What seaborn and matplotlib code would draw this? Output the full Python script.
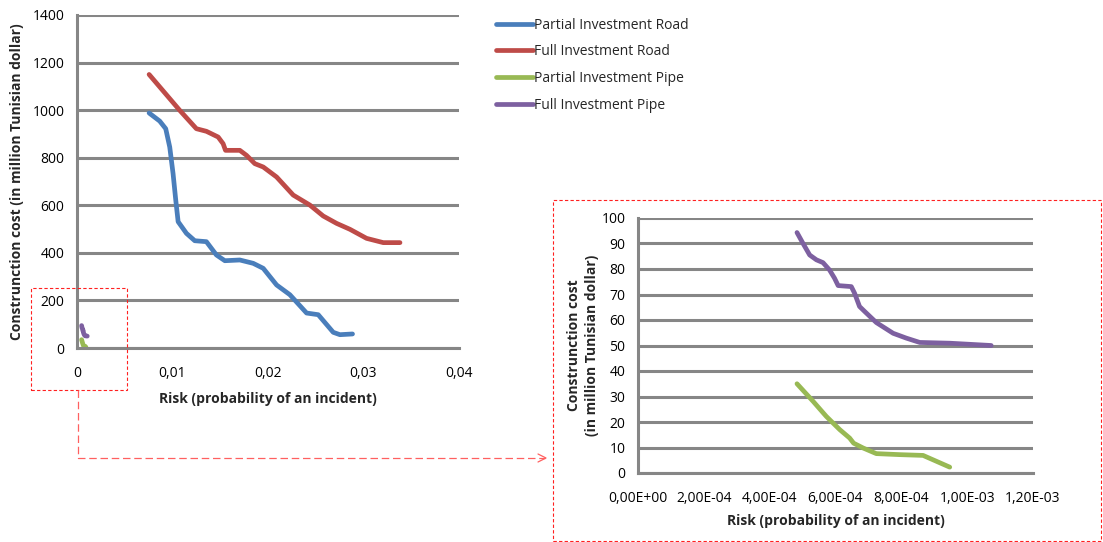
import matplotlib
matplotlib.use("Agg")
import numpy as np
import pandas as pd
import seaborn as sns
from matplotlib import pyplot as plt
from matplotlib.patches import Rectangle

# Data
road_partial_risk = [0.00755, 0.00866, 0.00929, 0.00971, 0.01006, 0.01034, 0.01059, 0.01146, 0.01233,
                     0.01355, 0.0146, 0.01548, 0.01705, 0.01845, 0.0195, 0.0209, 0.02229, 0.02404,
                     0.02526, 0.02683, 0.02753, 0.02885]
road_partial_cost = [988, 954, 922, 845, 733, 622, 531, 482, 451, 447, 391, 367, 370, 356, 335, 265, 224,
                     147, 140, 66, 56, 59]

road_full_risk = [0.00755, 0.01076, 0.0125, 0.01355, 0.01478, 0.0153, 0.01555, 0.01705, 0.01775, 0.01862,
                  0.0195, 0.0209, 0.02264, 0.02438, 0.02578, 0.02718, 0.02858, 0.03032, 0.03207, 0.03382]
road_full_cost = [1150, 999, 922, 911, 887, 859, 831, 831, 810, 775, 761, 719, 643, 601, 555, 524, 499,
                  461, 443, 443]

pipe_partial_risk = [4.83e-4, 5.32e-4, 5.72e-4, 6.13e-4, 6.43e-4, 6.55e-4, 6.84e-4, 7.24e-4, 7.95e-4,
                     8.66e-4, 9.47e-4]
pipe_partial_cost = [35.0, 28.1, 22.2, 17.0, 13.7, 11.7, 9.8, 7.6, 7.2, 6.9, 2.3]

pipe_full_risk = [4.83e-4, 5.01e-4, 5.215e-4, 5.42e-4, 5.62e-4, 5.82e-4, 5.97e-4, 6.08e-4, 6.48e-4,
                  6.58e-4, 6.73e-4, 6.89e-4, 7.24e-4, 7.75e-4, 8.15e-4, 8.56e-4, 9.47e-4, 1.073e-3]
pipe_full_cost = [94.3, 90.1, 85.5, 83.6, 82.5, 79.6, 76.4, 73.5, 73.1, 70.5, 65.3, 63.3, 59.0, 54.8,
                  52.9, 51.2, 50.9, 50.0]

series_names = ["Partial Investment Road", "Full Investment Road",
                "Partial Investment Pipe", "Full Investment Pipe"]
series_colors = ["#4A7EBB", "#BE4B48", "#98B954", "#7D60A0"]

main_xticks = [0, 0.01, 0.02, 0.03, 0.04]
main_xlabels = ["0", "0,01", "0,02", "0,03", "0,04"]
main_yticks = [0, 200, 400, 600, 800, 1000, 1200, 1400]
inset_xticks = [0, 2e-4, 4e-4, 6e-4, 8e-4, 1e-3, 1.2e-3]
inset_xlabels = ["0,00E+00", "2,00E-04", "4,00E-04", "6,00E-04", "8,00E-04", "1,00E-03", "1,20E-03"]
inset_yticks = [0, 10, 20, 30, 40, 50, 60, 70, 80, 90, 100]

frames = []
for name, xs, ys in zip(series_names,
                        [road_partial_risk, road_full_risk, pipe_partial_risk, pipe_full_risk],
                        [road_partial_cost, road_full_cost, pipe_partial_cost, pipe_full_cost]):
    frames.append(pd.DataFrame({"risk": xs, "cost": ys, "series": name}))
df = pd.concat(frames, ignore_index=True)
palette = dict(zip(series_names, series_colors))

sns.set_style("white")
plt.rcParams['font.family'] = ['Open Sans', 'DejaVu Sans']
grey = "#868686"

W, H = 1103, 542
fig = plt.figure(figsize=(W / 100, H / 100), dpi=100)


def px_axes(left, top, right, bottom):
    return fig.add_axes([left / W, 1 - bottom / H, (right - left) / W, (bottom - top) / H])


def style_axes(ax):
    sns.despine(ax=ax)
    for s in ["left", "bottom"]:
        ax.spines[s].set_color(grey)
        ax.spines[s].set_linewidth(2.2)
    ax.yaxis.grid(True, color=grey, linewidth=2.2)
    ax.set_axisbelow(True)
    ax.tick_params(axis="both", direction="out", length=5, width=2, color=grey,
                   labelsize=10, labelcolor="black", pad=4)


# main chart
ax = px_axes(77, 15, 459, 348)
sns.lineplot(data=df, x="risk", y="cost", hue="series", palette=palette, hue_order=series_names,
             sort=False, estimator=None, units="series", linewidth=3.4, ax=ax, legend=True)
ax.set_xlim(0, 0.04)
ax.set_ylim(0, 1400)
ax.set_xticks(main_xticks)
ax.set_xticklabels(main_xlabels)
ax.set_yticks(main_yticks)
style_axes(ax)
ax.tick_params(axis="x", pad=8)
ax.set_xlabel("Risk (probability of an incident)", fontsize=10, fontweight="bold", labelpad=8)
ax.set_ylabel("Construnction cost (in million Tunisian dollar)", fontsize=10, fontweight="bold", labelpad=6)
handles, labels = ax.get_legend_handles_labels()
ax.get_legend().remove()
fig.legend(handles, labels, loc="upper left", bbox_to_anchor=(490 / W, 1 - 12 / H), frameon=False,
           fontsize=10, handlelength=2.7, handletextpad=0.1, labelspacing=0.85, borderaxespad=0)

# inset chart
ax2 = px_axes(638, 218, 1033, 473)
pipes = df[df["series"].isin(series_names[2:])]
sns.lineplot(data=pipes, x="risk", y="cost", hue="series", palette=palette, hue_order=series_names[2:],
             sort=False, estimator=None, units="series", linewidth=3.4, ax=ax2, legend=False)
ax2.set_xlim(0, 1.2e-3)
ax2.set_ylim(0, 100)
ax2.set_xticks(inset_xticks)
ax2.set_xticklabels(inset_xlabels)
ax2.set_yticks(inset_yticks)
style_axes(ax2)
ax2.tick_params(axis="x", pad=8)
ax2.set_xlabel("Risk (probability of an incident)", fontsize=10, fontweight="bold", labelpad=6)
ax2.set_ylabel("Construnction cost\n(in million Tunisian dollar)", fontsize=10, fontweight="bold",
               labelpad=2, linespacing=1.3)

# zoom boxes and connector
red = "#FF2020"
fig.patches.append(Rectangle((31 / W, 1 - 390 / H), 96 / W, 102 / H, transform=fig.transFigure,
                             fill=False, edgecolor=red, linestyle=(0, (3, 2)), linewidth=0.8))
fig.patches.append(Rectangle((553 / W, 1 - 541 / H), 548 / W, 341 / H, transform=fig.transFigure,
                             fill=False, edgecolor=red, linestyle=(0, (3, 2)), linewidth=0.8))
fig.add_artist(plt.Line2D([78 / W, 78 / W, 545 / W], [1 - 390 / H, 1 - 458 / H, 1 - 458 / H],
                          transform=fig.transFigure, color="#FF6060", linestyle=(0, (6, 3)),
                          linewidth=0.9))
fig.add_artist(plt.Line2D([538 / W, 546 / W, 538 / W], [1 - 454 / H, 1 - 458 / H, 1 - 462 / H],
                          transform=fig.transFigure, color="#FF6060", linewidth=0.9))

fig.savefig("out.png", dpi=100)
